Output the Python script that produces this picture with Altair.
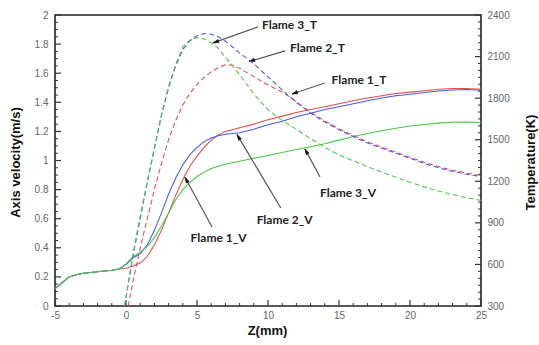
import math
import altair as alt
import pandas as pd

# ---------------- data ----------------
flames = ["Flame 1", "Flame 2", "Flame 3"]
colors = ["#ec4a4a", "#4a58ec", "#45c845"]

# axial velocity (m/s) along Z (mm)
z_vel = [-5, -4.5, -4, -3.5, -3, -2.5, -2, -1.5, -1, -0.5, 0, 0.5, 1, 1.5, 2, 2.5, 3,
         3.5, 4, 4.5, 5, 5.5, 6, 6.5, 7, 8, 9, 10, 11, 12, 13, 14, 15, 16, 17, 18,
         19, 20, 21, 22, 23, 24, 25]
vel_flame1 = [0.12, 0.16, 0.20, 0.215, 0.225, 0.23, 0.235, 0.24, 0.245, 0.255, 0.26,
              0.275, 0.295, 0.34, 0.42, 0.52, 0.64, 0.76, 0.87, 0.96, 1.03, 1.09,
              1.14, 1.175, 1.20, 1.225, 1.25, 1.28, 1.305, 1.33, 1.35, 1.37, 1.39,
              1.41, 1.43, 1.445, 1.46, 1.47, 1.48, 1.49, 1.495, 1.495, 1.49]
vel_flame2 = [0.12, 0.16, 0.20, 0.215, 0.225, 0.23, 0.235, 0.24, 0.245, 0.255, 0.285,
              0.33, 0.36, 0.42, 0.52, 0.64, 0.77, 0.88, 0.97, 1.04, 1.09, 1.13,
              1.155, 1.17, 1.18, 1.19, 1.215, 1.245, 1.27, 1.30, 1.325, 1.35, 1.37,
              1.39, 1.41, 1.43, 1.445, 1.455, 1.467, 1.477, 1.485, 1.488, 1.483]
vel_flame3 = [0.12, 0.16, 0.20, 0.215, 0.225, 0.23, 0.235, 0.24, 0.245, 0.255, 0.29,
              0.34, 0.37, 0.41, 0.47, 0.55, 0.64, 0.73, 0.80, 0.85, 0.89, 0.92,
              0.945, 0.96, 0.975, 0.995, 1.015, 1.035, 1.055, 1.075, 1.095, 1.115,
              1.14, 1.165, 1.185, 1.205, 1.222, 1.237, 1.248, 1.257, 1.263, 1.265, 1.26]

# temperature (K) along Z (mm)
z_temp1 = [0.15, 0.5, 1, 1.5, 2, 2.5, 3, 3.5, 4, 4.5, 5, 5.5, 6, 6.5, 7, 7.5, 8, 9,
           10, 11, 12, 13, 14, 15, 16, 17, 18, 19, 20, 21, 22, 23, 24, 25]
temp_flame1 = [300, 480, 720, 930, 1140, 1330, 1500, 1640, 1750, 1835, 1900, 1950,
               1990, 2020, 2040, 2038, 2015, 1955, 1895, 1845, 1775, 1697, 1636, 1579,
               1531, 1484, 1447, 1410, 1373, 1337, 1306, 1280, 1259, 1242]
z_temp2 = [-0.1, 0.5, 1, 1.5, 2, 2.5, 3, 3.5, 4, 4.5, 5, 5.5, 6, 6.5, 7, 7.5, 8, 9,
           10, 11, 12, 13, 14, 15, 16, 17, 18, 19, 20, 21, 22, 23, 24, 25]
temp_flame2 = [300, 668, 930, 1193, 1434, 1676, 1875, 2033, 2150, 2214, 2250, 2266,
               2261, 2243, 2211, 2169, 2127, 2048, 1954, 1859, 1770, 1691, 1628, 1571,
               1523, 1476, 1439, 1403, 1366, 1329, 1298, 1271, 1250, 1235]
z_temp3 = [-0.1, 0.5, 1, 1.5, 2, 2.5, 3, 3.5, 4, 4.5, 5, 5.5, 6, 6.5, 7, 7.5, 8, 9,
           10, 11, 12, 13, 14, 15, 16, 17, 18, 19, 20, 21, 22, 23, 24, 25]
temp_flame3 = [300, 680, 950, 1200, 1445, 1685, 1885, 2045, 2170, 2220, 2237, 2227,
               2200, 2160, 2095, 2035, 1970, 1830, 1715, 1640, 1575, 1508, 1445, 1390,
               1348, 1306, 1266, 1230, 1193, 1160, 1130, 1103, 1082, 1062]

# curve annotations (text anchor, arrow tail, arrow tip) in data units
ann_text = ["Flame 3_T", "Flame 2_T", "Flame 1_T", "Flame 3_V", "Flame 2_V", "Flame 1_V"]
ann_text_z = [9.58, 11.55, 14.48, 13.66, 9.2, 4.55]
ann_text_v = [1.929, 1.771, 1.556, 0.779, 0.591, 0.465]
arrow_z0 = [9.30, 11.2, 14.0, 13.66, 10.9, 6.06]
arrow_v0 = [1.918, 1.753, 1.533, 0.887, 0.674, 0.543]
arrow_z1 = [6.13, 8.66, 11.69, 12.6, 7.82, 4.15]
arrow_v1 = [1.808, 1.68, 1.457, 1.08, 1.178, 0.885]

# axis tick positions
z_major = [-5, 0, 5, 10, 15, 20, 25]
z_minor = [v for v in range(-5, 26) if v % 5 != 0]
vel_major = [0, 0.2, 0.4, 0.6, 0.8, 1, 1.2, 1.4, 1.6, 1.8, 2]
vel_minor = [round(i * 0.05, 2) for i in range(41) if i % 4 != 0]
temp_major = [300, 600, 900, 1200, 1500, 1800, 2100, 2400]
temp_minor = [t for t in range(300, 2401, 50) if t % 300 != 0]

# ---------------- frames ----------------
vel_rows = []
for name, vals in zip(flames, [vel_flame1, vel_flame2, vel_flame3]):
    for z, v in zip(z_vel, vals):
        vel_rows.append({"z": z, "v": v, "flame": name})
vel_df = pd.DataFrame(vel_rows)

temp_rows = []
for name, zs, vals in zip(flames, [z_temp1, z_temp2, z_temp3],
                          [temp_flame1, temp_flame2, temp_flame3]):
    for z, t in zip(zs, vals):
        temp_rows.append({"z": z, "T": t, "flame": name})
temp_df = pd.DataFrame(temp_rows)

W, H = 426, 291
X_DOM, V_DOM, T_DOM = [-5, 25], [0, 2], [300, 2400]
px_per_z = W / (X_DOM[1] - X_DOM[0])
px_per_v = H / (V_DOM[1] - V_DOM[0])

angles = []
for a, b, c, d in zip(arrow_z0, arrow_v0, arrow_z1, arrow_v1):
    dx = (c - a) * px_per_z
    dy = -(d - b) * px_per_v
    angles.append(math.degrees(math.atan2(dx, -dy)) % 360)

ann_df = pd.DataFrame({
    "label": ann_text, "tz": ann_text_z, "tv": ann_text_v,
    "z0": arrow_z0, "v0": arrow_v0, "z1": arrow_z1, "v1": arrow_v1, "angle": angles,
})

x_scale = alt.Scale(domain=X_DOM, nice=False, zero=False)
v_scale = alt.Scale(domain=V_DOM, nice=False, zero=False)
t_scale = alt.Scale(domain=T_DOM, nice=False, zero=False)
color_scale = alt.Scale(domain=flames, range=colors)

LABEL_FONT = "Liberation Sans"
x_axis = alt.Axis(values=z_major, ticks=False, domain=False, grid=False,
                  labelExpr="replace(datum.label, '\u2212', '-')",
                  labelColor="#666", labelFont=LABEL_FONT, labelFontSize=10,
                  labelPadding=4, labelFlush=False, labelOverlap=False,
                  title="Z(mm)", titleFont=LABEL_FONT, titleFontSize=13,
                  titleFontWeight="bold", titleColor="#111",
                  titleX=212, titleY=24, titleAlign="center", titleBaseline="middle")
v_axis = alt.Axis(values=vel_major, format="~g", ticks=False, domain=False, grid=False,
                  labelColor="#666", labelFont=LABEL_FONT, labelFontSize=10,
                  labelPadding=7, labelOverlap=False,
                  title="Axis velocity(m/s)", titleFont=LABEL_FONT, titleFontSize=13,
                  titleFontWeight="bold", titleColor="#111", titleAngle=270,
                  titleX=-40, titleY=147, titleAlign="center", titleBaseline="middle")
t_axis = alt.Axis(values=temp_major, format="d", orient="right", ticks=False,
                  domain=False, grid=False,
                  labelColor="#666", labelFont=LABEL_FONT, labelFontSize=10,
                  labelPadding=6, labelOverlap=False,
                  title="Temperature(K)", titleFont=LABEL_FONT, titleFontSize=13,
                  titleFontWeight="bold", titleColor="#111", titleAngle=270,
                  titleX=49, titleY=147, titleAlign="center", titleBaseline="middle")


def xz(field):
    return alt.X(field, type="quantitative", scale=x_scale, axis=x_axis)


def yv(field):
    return alt.Y(field, type="quantitative", scale=v_scale, axis=v_axis)


def yt(field):
    return alt.Y(field, type="quantitative", scale=t_scale, axis=t_axis)


# ---------------- velocity group (left axis) ----------------
vel_lines = alt.Chart(vel_df).mark_line(strokeWidth=1.05).encode(
    x=xz("z"), y=yv("v"),
    color=alt.Color("flame:N", scale=color_scale, legend=None),
)

tick_color = "#333"
left_major = alt.Chart(pd.DataFrame({"v": vel_major})).mark_rule(
    color=tick_color, strokeWidth=1.2).encode(
    y=yv("v"), x=alt.value(0), x2=alt.value(6))
left_minor = alt.Chart(pd.DataFrame({"v": vel_minor})).mark_rule(
    color=tick_color, strokeWidth=1).encode(
    y=yv("v"), x=alt.value(0), x2=alt.value(3))
bottom_major = alt.Chart(pd.DataFrame({"z": z_major})).mark_rule(
    color=tick_color, strokeWidth=1.2).encode(
    x=xz("z"), y=alt.value(H), y2=alt.value(H - 6))
bottom_minor = alt.Chart(pd.DataFrame({"z": z_minor})).mark_rule(
    color=tick_color, strokeWidth=1).encode(
    x=xz("z"), y=alt.value(H), y2=alt.value(H - 3))

arrow_lines = alt.Chart(ann_df).mark_rule(color="#555", strokeWidth=1.2).encode(
    x=xz("z0"), x2="z1:Q", y=yv("v0"), y2="v1:Q")
arrow_heads = alt.Chart(ann_df).mark_point(
    shape="M0,0L-0.32,1.1L0.32,1.1Z", filled=True, fill="#111", stroke="#111",
    strokeWidth=0.5, size=110, opacity=1).encode(
    x=xz("z1"), y=yv("v1"),
    angle=alt.Angle("angle:Q", scale=None))
ann_labels = alt.Chart(ann_df).mark_text(
    align="left", baseline="middle", font="Lato", fontWeight="bold", fontSize=12,
    color="#222").encode(
    x=xz("tz"), y=yv("tv"), text="label:N")

vel_group = alt.layer(left_major, left_minor, bottom_major, bottom_minor, vel_lines,
                      arrow_lines, arrow_heads, ann_labels)

# ---------------- temperature group (right axis) ----------------
temp_lines = alt.Chart(temp_df).mark_line(strokeWidth=1.05, strokeDash=[5, 3]).encode(
    x=xz("z"), y=yt("T"),
    color=alt.Color("flame:N", scale=color_scale, legend=None),
)
right_major = alt.Chart(pd.DataFrame({"T": temp_major})).mark_rule(
    color=tick_color, strokeWidth=1.2).encode(
    y=yt("T"), x=alt.value(W), x2=alt.value(W - 6))
right_minor = alt.Chart(pd.DataFrame({"T": temp_minor})).mark_rule(
    color=tick_color, strokeWidth=1).encode(
    y=yt("T"), x=alt.value(W), x2=alt.value(W - 3))

temp_group = alt.layer(right_major, right_minor, temp_lines)

chart = alt.layer(vel_group, temp_group).resolve_scale(y="independent").properties(
    width=W, height=H,
    padding={"left": 55, "top": 15, "right": 58, "bottom": 39},
    autosize=alt.AutoSizeParams(type="none"),
    background="white",
).configure_view(stroke="#222", strokeWidth=1.6)

chart.save("out.html", embed_options={"renderer": "svg", "actions": False})
